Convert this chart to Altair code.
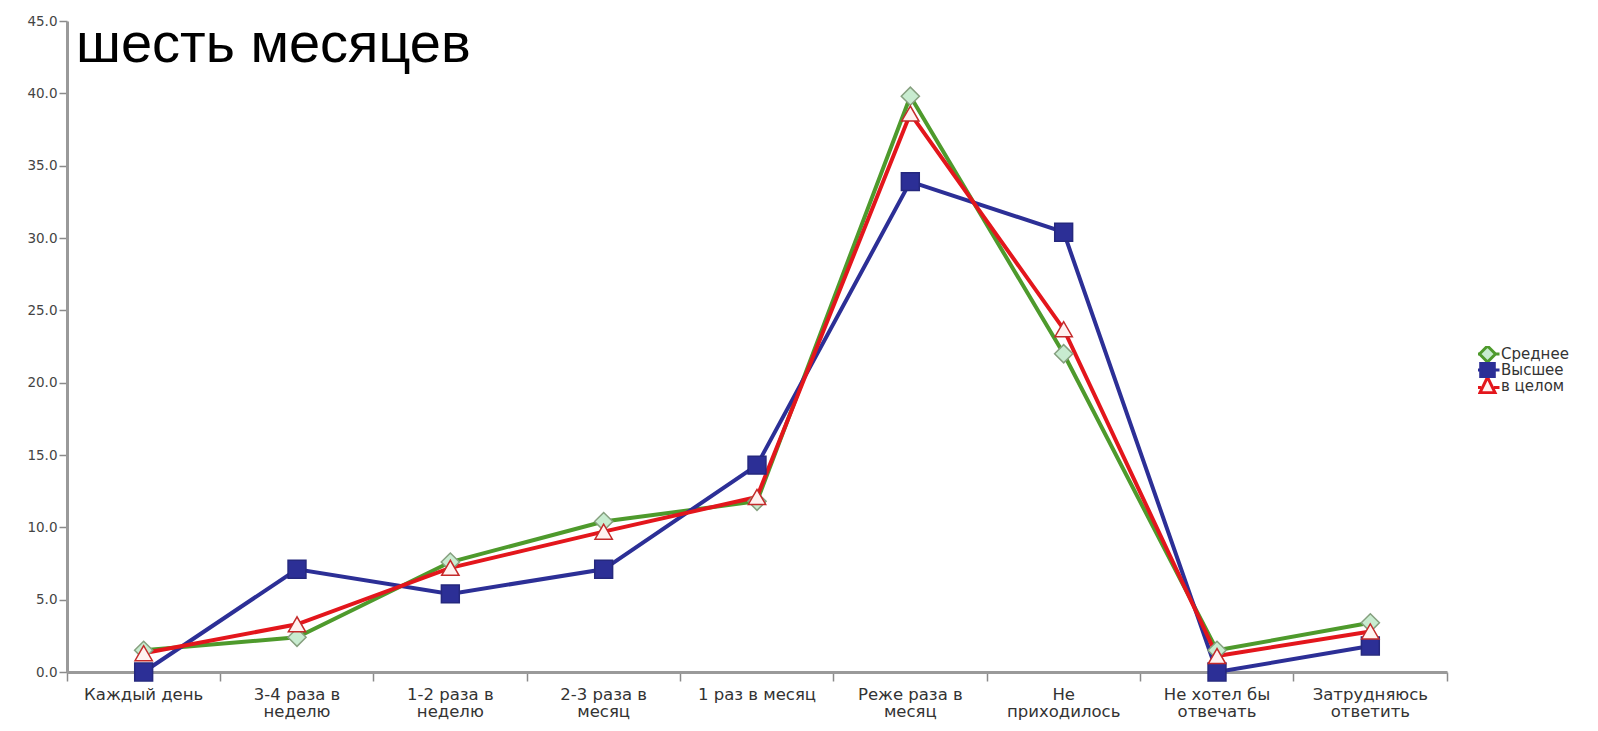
import altair as alt
import pandas as pd

# ---- data ----
categories = [
    "Каждый день",
    "3-4 раза в\nнеделю",
    "1-2 раза в\nнеделю",
    "2-3 раза в\nмесяц",
    "1 раз в месяц",
    "Реже раза в\nмесяц",
    "Не\nприходилось",
    "Не хотел бы\nотвечать",
    "Затрудняюсь\nответить",
]
series_names = ["Среднее", "Высшее", "в целом"]
srednee = [1.5, 2.4, 7.6, 10.4, 11.8, 39.8, 22.0, 1.5, 3.4]
vysshee = [0.0, 7.1, 5.4, 7.1, 14.3, 33.9, 30.4, 0.0, 1.8]
v_celom = [1.3, 3.3, 7.2, 9.7, 12.1, 38.6, 23.7, 1.1, 2.8]
y_ticks = [0, 5, 10, 15, 20, 25, 30, 35, 40, 45]
title_text = "шесть месяцев"

# ---- styles ----
line_colors = ["#4e9a2c", "#2c2f96", "#e3161c"]
shapes = ["diamond", "square", "triangle-up"]
fills = ["#c8ecd0", "#2c2f96", "#fff2f0"]
strokes = ["#86a07f", "#25287e", "#c42a2a"]
sizes = [330, 320, 300]
legend_paths = [
    "M-1.5,0L-1,0M1,0L1.5,0M-1,0L0,-1L1,0L0,1Z",
    "M-1.5,0L-0.85,0M0.85,0L1.5,0M-0.85,-0.85L0.85,-0.85L0.85,0.85L-0.85,0.85Z",
    "M-1.5,0.2L-0.8,0.2M0.8,0.2L1.5,0.2M0,-1.1L0.95,0.85L-0.95,0.85Z",
]

rows = []
for name, vals in zip(series_names, [srednee, vysshee, v_celom]):
    for c, v in zip(categories, vals):
        rows.append({"cat": c, "series": name, "value": v})
df = pd.DataFrame(rows)

FONT = "DejaVu Sans"

x_enc = alt.X(
    "cat:N",
    sort=categories,
    scale=alt.Scale(type="band", domain=categories, paddingInner=0, paddingOuter=0),
    axis=alt.Axis(
        title=None,
        labelAngle=0,
        labelExpr="split(datum.label, '\\n')",
        labelFont=FONT,
        labelFontSize=16.5,
        labelLineHeight=17.5,
        labelColor="#333333",
        labelPadding=5,
        labelBaseline="top",
        bandPosition=1,
        tickExtra=True,
        tickSize=9,
        tickWidth=1.5,
        tickColor="#8a8a8a",
        domainColor="#9a9a9a",
        domainWidth=3,
        grid=False,
    ),
)
y_enc = alt.Y(
    "value:Q",
    scale=alt.Scale(domain=[0, 45], nice=False),
    axis=alt.Axis(
        title=None,
        values=y_ticks,
        format=".1f",
        labelFont=FONT,
        labelFontSize=13.5,
        labelColor="#444444",
        labelPadding=2,
        tickSize=8,
        tickWidth=1.5,
        tickColor="#8a8a8a",
        domainColor="#9a9a9a",
        domainWidth=3,
        grid=False,
    ),
)

base = alt.Chart(df)
layers = []
for i, name in enumerate(series_names):
    layers.append(
        base.transform_filter(alt.datum.series == name)
        .mark_line(color=line_colors[i], strokeWidth=4)
        .encode(x=x_enc, y=y_enc)
    )
for i, name in enumerate(series_names):
    layers.append(
        base.transform_filter(alt.datum.series == name)
        .mark_point(
            shape=shapes[i],
            filled=True,
            fill=fills[i],
            stroke=strokes[i],
            strokeWidth=1.5,
            size=sizes[i],
            opacity=1,
        )
        .encode(x=x_enc, y=y_enc)
    )

legend = alt.Legend(
    title=None,
    orient="none",
    legendX=1411,
    legendY=325,
    padding=0,
    rowPadding=0,
    clipHeight=16,
    symbolSize=256,
    symbolStrokeWidth=3,
    symbolOpacity=1,
    labelFont=FONT,
    labelFontSize=15,
    labelColor="#333333",
    labelOffset=4,
)
legend_df = pd.DataFrame({"series": series_names})
legend_layer = (
    alt.Chart(legend_df)
    .mark_point(filled=True)
    .encode(
        x=alt.value(-3000),
        y=alt.value(-3000),
        shape=alt.Shape("series:N", sort=series_names,
                        scale=alt.Scale(domain=series_names, range=legend_paths), legend=legend),
        fill=alt.Fill("series:N", sort=series_names,
                      scale=alt.Scale(domain=series_names, range=fills), legend=legend),
        stroke=alt.Stroke("series:N", sort=series_names,
                          scale=alt.Scale(domain=series_names, range=line_colors), legend=legend),
    )
)

title_layer = (
    alt.Chart(pd.DataFrame({"t": [title_text]}))
    .mark_text(font="Liberation Sans", fontSize=56, align="left", baseline="alphabetic", color="#000000")
    .encode(text="t:N", x=alt.value(9), y=alt.value(41))
)

chart = (
    alt.layer(*layers, legend_layer, title_layer)
    .properties(
        width=1380,
        height=651,
        autosize=alt.AutoSizeParams(type="none"),
        padding={"left": 59, "top": 13, "right": 143, "bottom": 51},
    )
    .configure_view(stroke=None)
)

chart.save("out.html", embed_options={"renderer": "svg", "actions": False})
